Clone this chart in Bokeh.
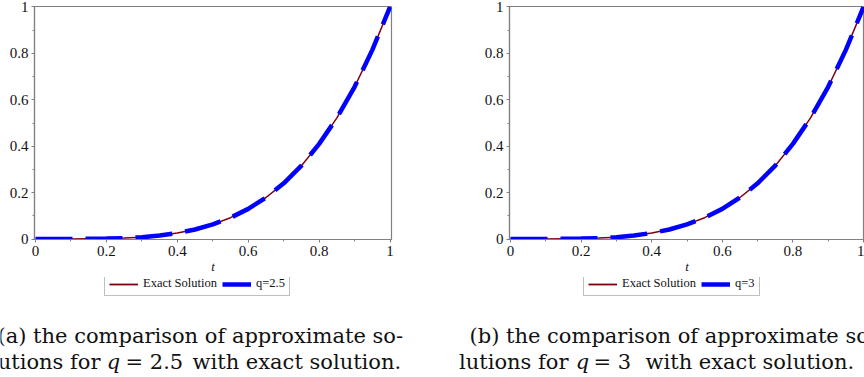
from bokeh.plotting import figure
from bokeh.layouts import row, column
from bokeh.models import (Range1d, FixedTicker, CustomJSTickFormatter, Legend,
                          LegendItem)
from bokeh.core.properties import value
from bokeh.embed import file_html
from bokeh.resources import INLINE

# ---- data ----
t_values = [0.00, 0.05, 0.10, 0.15, 0.20, 0.25, 0.30, 0.35, 0.40, 0.45, 0.50,
            0.55, 0.60, 0.65, 0.70, 0.75, 0.80, 0.85, 0.90, 0.95, 1.00]
exact_y = [0.000, 0.000, 0.000, 0.001, 0.002, 0.004, 0.008, 0.015, 0.026, 0.041,
           0.063, 0.092, 0.130, 0.179, 0.240, 0.316, 0.410, 0.522, 0.656, 0.815, 1.000]
approx_q25_y = [0.000, 0.000, 0.000, 0.001, 0.002, 0.004, 0.008, 0.015, 0.026, 0.041,
                0.063, 0.092, 0.130, 0.179, 0.240, 0.316, 0.410, 0.522, 0.656, 0.815, 1.000]
approx_q3_y = [0.000, 0.000, 0.000, 0.001, 0.002, 0.004, 0.008, 0.015, 0.026, 0.041,
               0.063, 0.092, 0.130, 0.179, 0.240, 0.316, 0.410, 0.522, 0.656, 0.815, 1.000]
major_ticks = [0, 0.2, 0.4, 0.6, 0.8, 1]
minor_ticks = [0.1, 0.3, 0.5, 0.7, 0.9]
series_labels = ["q=2.5", "q=3"]
caption_line1 = ["(a) the comparison of approximate so-",
                 "(b) the comparison of approximate so-"]
caption_pre = ["lutions for", "lutions for"]
caption_var = ["q", "q"]
caption_eq = ["= 2.5", "= 3"]
caption_tail = ["with exact solution.", "with exact solution."]

RED = "#7c0010"
BLUE = "#0000ff"
GRAY = "#808080"
TICK_FONT = "Liberation Serif"
CAP_FONT = "DejaVu Serif"
TOP_H = 277
BOT_H = 377 - TOP_H


def make_panel(approx, width, border_left, border_right, x_range):
    p = figure(width=width, height=TOP_H, output_backend="svg", toolbar_location=None,
               x_range=x_range, y_range=Range1d(-0.002, 1.002),
               min_border_left=border_left, min_border_right=border_right,
               min_border_top=6, min_border_bottom=TOP_H - 239)
    p.grid.visible = False
    p.background_fill_color = "white"
    p.border_fill_color = "white"
    p.outline_line_color = GRAY
    p.outline_line_width = 1.2

    for ax in (p.xaxis[0], p.yaxis[0]):
        ax.ticker = FixedTicker(ticks=major_ticks, minor_ticks=minor_ticks)
        ax.formatter = CustomJSTickFormatter(code="return Number(tick.toFixed(2)).toString();")
        ax.axis_line_color = GRAY
        ax.axis_line_width = 1.2
        ax.major_tick_line_color = GRAY
        ax.minor_tick_line_color = GRAY
        ax.major_tick_in = 0
        ax.major_tick_out = 3
        ax.minor_tick_in = 0
        ax.minor_tick_out = 2
        ax.major_label_text_font = TICK_FONT
        ax.major_label_text_font_size = "15px"
        ax.major_label_text_color = "#111111"
        ax.major_label_standoff = 3
    p.xaxis[0].axis_label = "t"
    p.xaxis[0].axis_label_text_font = TICK_FONT
    p.xaxis[0].axis_label_text_font_style = "italic"
    p.xaxis[0].axis_label_text_font_size = "13px"
    p.xaxis[0].axis_label_standoff = 0
    p.xaxis[0].axis_label_text_color = "#111111"

    p.line(t_values, exact_y, line_color=RED, line_width=1.5)
    p.line(t_values, approx, line_color=BLUE, line_width=4.5, line_dash="37 13")
    return p


p1 = make_panel(approx_q25_y, 440, 34, 49, Range1d(-0.0028, 1.004))
p2 = make_panel(approx_q3_y, 424, 69, 0, Range1d(-1 / 353, 1 + 1 / 353))

# ---- bottom strip: legends and captions (pixel coordinates, y downwards) ----
bot = figure(width=864, height=BOT_H, output_backend="svg", toolbar_location=None,
             x_range=Range1d(0, 864), y_range=Range1d(BOT_H, 0),
             min_border=0, x_axis_type=None, y_axis_type=None)
bot.grid.visible = False
bot.outline_line_color = None

legend_locs = [(104, BOT_H - (296 - TOP_H)), (583, BOT_H - (296 - TOP_H))]
for i in range(2):
    # legend-only renderers, placed outside the visible strip
    r_e = bot.line(x=[-20, -10], y=[-20, -20], line_color=RED, line_width=1.8)
    r_a = bot.line(x=[-20, -10], y=[-20, -20], line_color=BLUE, line_width=4.5)
    leg = Legend(items=[LegendItem(label="Exact Solution", renderers=[r_e]),
                        LegendItem(label=series_labels[i], renderers=[r_a])],
                 orientation="horizontal", location=legend_locs[i],
                 border_line_color=GRAY, border_line_width=1.2,
                 padding=4, spacing=5, margin=0, glyph_width=29, glyph_height=10,
                 label_height=10, label_standoff=5,
                 label_text_font=TICK_FONT, label_text_font_size="12.5px",
                 label_text_color="#111111", background_fill_alpha=1)
    bot.add_layout(leg, "center")

CS = "21px"
l1_x = [-3, 469]
pre_right = [100, 568]
q_center = [113, 582]
eq_left = [125, 593]
tail_left = [192, 645]
base1 = 335 - TOP_H
base2 = 361 - TOP_H
common = dict(text_font=value(CAP_FONT), text_font_size=CS, text_color="#111111",
              text_baseline="alphabetic")
bot.text(x=l1_x, y=[base1, base1], text=caption_line1, text_align="left", **common)
bot.text(x=pre_right, y=[base2, base2], text=caption_pre, text_align="right", **common)
bot.text(x=q_center, y=[base2, base2], text=caption_var, text_align="center",
         text_font_style="italic", **common)
bot.text(x=eq_left, y=[base2, base2], text=caption_eq, text_align="left", **common)
bot.text(x=tail_left, y=[base2, base2], text=caption_tail, text_align="left", **common)

layout = column(row(p1, p2), bot)
open("out.html", "w").write(file_html(layout, INLINE))
